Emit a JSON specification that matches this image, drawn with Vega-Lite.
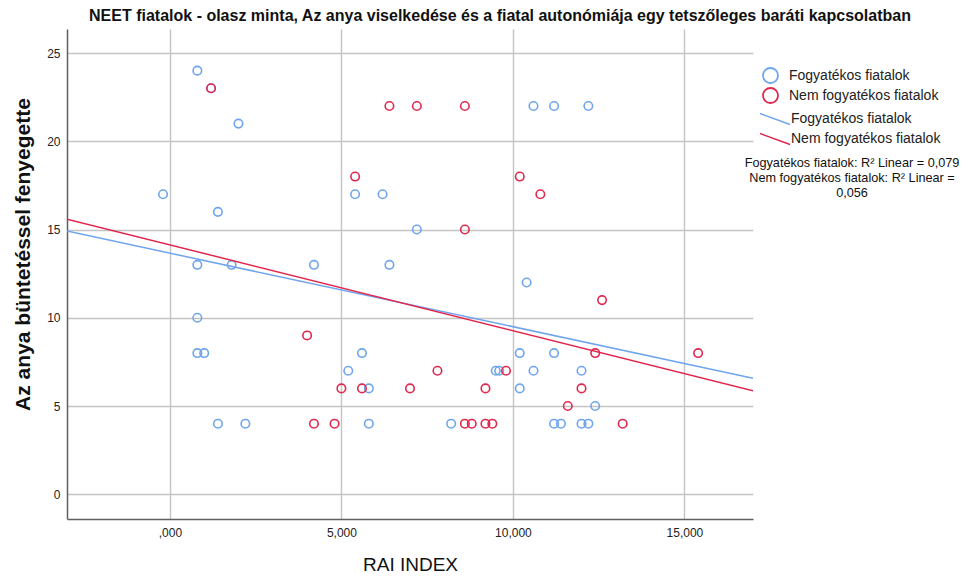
{
  "$schema": "https://vega.github.io/schema/vega-lite/v6.json",
  "width": 686,
  "height": 490,
  "autosize": "none",
  "padding": {"left": 67, "top": 29, "right": 224, "bottom": 62},
  "background": "white",
  "title": {
    "text": "NEET fiatalok - olasz minta, Az anya viselkedése és a fiatal autonómiája egy tetszőleges baráti kapcsolatban",
    "font": "Liberation Sans",
    "fontSize": 16,
    "fontWeight": "bold",
    "color": "#111111",
    "anchor": "middle",
    "dx": 90,
    "offset": 5
  },
  "datasets": {
    "points": [
      {"rai": 0.8, "y": 24, "group": "Fogyatékos fiatalok"},
      {"rai": 1.2, "y": 23, "group": "Fogyatékos fiatalok"},
      {"rai": 2.0, "y": 21, "group": "Fogyatékos fiatalok"},
      {"rai": -0.2, "y": 17, "group": "Fogyatékos fiatalok"},
      {"rai": 5.4, "y": 17, "group": "Fogyatékos fiatalok"},
      {"rai": 6.2, "y": 17, "group": "Fogyatékos fiatalok"},
      {"rai": 1.4, "y": 16, "group": "Fogyatékos fiatalok"},
      {"rai": 7.2, "y": 15, "group": "Fogyatékos fiatalok"},
      {"rai": 0.8, "y": 13, "group": "Fogyatékos fiatalok"},
      {"rai": 1.8, "y": 13, "group": "Fogyatékos fiatalok"},
      {"rai": 4.2, "y": 13, "group": "Fogyatékos fiatalok"},
      {"rai": 6.4, "y": 13, "group": "Fogyatékos fiatalok"},
      {"rai": 10.6, "y": 22, "group": "Fogyatékos fiatalok"},
      {"rai": 11.2, "y": 22, "group": "Fogyatékos fiatalok"},
      {"rai": 12.2, "y": 22, "group": "Fogyatékos fiatalok"},
      {"rai": 10.4, "y": 12, "group": "Fogyatékos fiatalok"},
      {"rai": 0.8, "y": 10, "group": "Fogyatékos fiatalok"},
      {"rai": 0.8, "y": 8, "group": "Fogyatékos fiatalok"},
      {"rai": 1.0, "y": 8, "group": "Fogyatékos fiatalok"},
      {"rai": 5.6, "y": 8, "group": "Fogyatékos fiatalok"},
      {"rai": 10.2, "y": 8, "group": "Fogyatékos fiatalok"},
      {"rai": 11.2, "y": 8, "group": "Fogyatékos fiatalok"},
      {"rai": 5.2, "y": 7, "group": "Fogyatékos fiatalok"},
      {"rai": 9.5, "y": 7, "group": "Fogyatékos fiatalok"},
      {"rai": 9.6, "y": 7, "group": "Fogyatékos fiatalok"},
      {"rai": 10.6, "y": 7, "group": "Fogyatékos fiatalok"},
      {"rai": 12.0, "y": 7, "group": "Fogyatékos fiatalok"},
      {"rai": 5.8, "y": 6, "group": "Fogyatékos fiatalok"},
      {"rai": 10.2, "y": 6, "group": "Fogyatékos fiatalok"},
      {"rai": 12.4, "y": 5, "group": "Fogyatékos fiatalok"},
      {"rai": 1.4, "y": 4, "group": "Fogyatékos fiatalok"},
      {"rai": 2.2, "y": 4, "group": "Fogyatékos fiatalok"},
      {"rai": 5.8, "y": 4, "group": "Fogyatékos fiatalok"},
      {"rai": 8.2, "y": 4, "group": "Fogyatékos fiatalok"},
      {"rai": 11.2, "y": 4, "group": "Fogyatékos fiatalok"},
      {"rai": 11.4, "y": 4, "group": "Fogyatékos fiatalok"},
      {"rai": 12.0, "y": 4, "group": "Fogyatékos fiatalok"},
      {"rai": 12.2, "y": 4, "group": "Fogyatékos fiatalok"},
      {"rai": 1.2, "y": 23, "group": "Nem fogyatékos fiatalok"},
      {"rai": 6.4, "y": 22, "group": "Nem fogyatékos fiatalok"},
      {"rai": 7.2, "y": 22, "group": "Nem fogyatékos fiatalok"},
      {"rai": 8.6, "y": 22, "group": "Nem fogyatékos fiatalok"},
      {"rai": 5.4, "y": 18, "group": "Nem fogyatékos fiatalok"},
      {"rai": 10.2, "y": 18, "group": "Nem fogyatékos fiatalok"},
      {"rai": 10.8, "y": 17, "group": "Nem fogyatékos fiatalok"},
      {"rai": 8.6, "y": 15, "group": "Nem fogyatékos fiatalok"},
      {"rai": 12.6, "y": 11, "group": "Nem fogyatékos fiatalok"},
      {"rai": 4.0, "y": 9, "group": "Nem fogyatékos fiatalok"},
      {"rai": 12.4, "y": 8, "group": "Nem fogyatékos fiatalok"},
      {"rai": 15.4, "y": 8, "group": "Nem fogyatékos fiatalok"},
      {"rai": 7.8, "y": 7, "group": "Nem fogyatékos fiatalok"},
      {"rai": 9.8, "y": 7, "group": "Nem fogyatékos fiatalok"},
      {"rai": 5.0, "y": 6, "group": "Nem fogyatékos fiatalok"},
      {"rai": 5.6, "y": 6, "group": "Nem fogyatékos fiatalok"},
      {"rai": 7.0, "y": 6, "group": "Nem fogyatékos fiatalok"},
      {"rai": 9.2, "y": 6, "group": "Nem fogyatékos fiatalok"},
      {"rai": 12.0, "y": 6, "group": "Nem fogyatékos fiatalok"},
      {"rai": 11.6, "y": 5, "group": "Nem fogyatékos fiatalok"},
      {"rai": 4.2, "y": 4, "group": "Nem fogyatékos fiatalok"},
      {"rai": 4.8, "y": 4, "group": "Nem fogyatékos fiatalok"},
      {"rai": 8.6, "y": 4, "group": "Nem fogyatékos fiatalok"},
      {"rai": 8.8, "y": 4, "group": "Nem fogyatékos fiatalok"},
      {"rai": 9.2, "y": 4, "group": "Nem fogyatékos fiatalok"},
      {"rai": 9.4, "y": 4, "group": "Nem fogyatékos fiatalok"},
      {"rai": 13.2, "y": 4, "group": "Nem fogyatékos fiatalok"}
    ],
    "fits": [
      {"rai": -3, "y": 14.91, "line": "Fogyatékos fiatalok"},
      {"rai": 17, "y": 6.58, "line": "Fogyatékos fiatalok"},
      {"rai": -3, "y": 15.59, "line": "Nem fogyatékos fiatalok"},
      {"rai": 17, "y": 5.86, "line": "Nem fogyatékos fiatalok"}
    ]
  },
  "layer": [
    {
      "data": {"name": "points"},
      "mark": {"type": "point", "filled": false, "size": 72, "strokeWidth": 1.6, "opacity": 1, "clip": true},
      "encoding": {
        "x": {
          "field": "rai", "type": "quantitative",
          "scale": {"domain": [-3, 17], "nice": false, "zero": false},
          "axis": {
            "title": "RAI INDEX",
            "values": [0, 5, 10, 15],
            "labelExpr": "datum.value == 0 ? ',000' : replace(format(datum.value, '.3f'), '.', ',')"
          }
        },
        "y": {
          "field": "y", "type": "quantitative",
          "scale": {"domain": [-1.4, 26.36], "nice": false, "zero": false},
          "axis": {
            "title": "Az anya büntetéssel fenyegette",
            "values": [0, 5, 10, 15, 20, 25],
            "titleFontWeight": "bold",
            "titleFontSize": 21,
            "titleY": 225
          }
        },
        "stroke": {
          "field": "group", "type": "nominal",
          "scale": {"domain": ["Fogyatékos fiatalok", "Nem fogyatékos fiatalok"], "range": ["#6fa5ee", "#e0284e"]},
          "legend": {
            "title": null,
            "orient": "none",
            "legendX": 695,
            "legendY": 38,
            "symbolType": "circle",
            "symbolSize": 225,
            "symbolStrokeWidth": 1.8,
            "symbolFillColor": "transparent",
            "labelFontSize": 14,
            "labelOffset": 10,
            "rowPadding": -3,
            "padding": 0
          }
        },
        "order": {"field": "group", "type": "nominal"}
      }
    },
    {
      "data": {"name": "fits"},
      "mark": {"type": "line", "strokeWidth": 1.5, "clip": true},
      "encoding": {
        "x": {"field": "rai", "type": "quantitative"},
        "y": {"field": "y", "type": "quantitative"},
        "color": {
          "field": "line", "type": "nominal",
          "scale": {"range": ["#6fa5ee", "#e0284e"]},
          "legend": {
            "title": ["\u00a0\u00a0\u00a0\u00a0\u00a0Fogyatékos fiatalok: R² Linear = 0,079", "\u00a0\u00a0\u00a0\u00a0\u00a0Nem fogyatékos fiatalok: R² Linear =", "\u00a0\u00a0\u00a0\u00a0\u00a00,056"],
            "titleOrient": "bottom",
            "titleAlign": "center",
            "titleAnchor": "middle",
            "titleFontSize": 12.7,
            "titleFontWeight": "normal",
            "titleLineHeight": 15,
            "titleLimit": 400,
            "titleColor": "#111111",
            "titlePadding": 9,
            "orient": "none",
            "legendX": 678,
            "legendY": 79,
            "symbolType": "M-1.5,-0.55L1.5,0.55",
            "symbolSize": 400,
            "symbolStrokeWidth": 1.5,
            "labelFontSize": 14,
            "labelOffset": 5,
            "rowPadding": -3,
            "padding": 0
          }
        }
      }
    }
  ],
  "config": {
    "font": "Liberation Sans",
    "view": {"stroke": null},
    "axis": {
      "grid": true,
      "gridColor": "#c4c4c4",
      "gridWidth": 1.4,
      "domainColor": "#5f5f5f",
      "domainWidth": 1.5,
      "ticks": false,
      "labelFontSize": 12,
      "labelColor": "#222222",
      "labelFont": "Liberation Sans",
      "titleFont": "Liberation Sans",
      "titleFontSize": 19,
      "titleFontWeight": "normal",
      "titleColor": "#111111"
    },
    "axisX": {"labelPadding": 8, "titlePadding": 17},
    "axisY": {"labelPadding": 7, "titlePadding": 13},
    "legend": {"labelFont": "Liberation Sans", "labelColor": "#222222", "titleFont": "Liberation Sans"}
  }
}
